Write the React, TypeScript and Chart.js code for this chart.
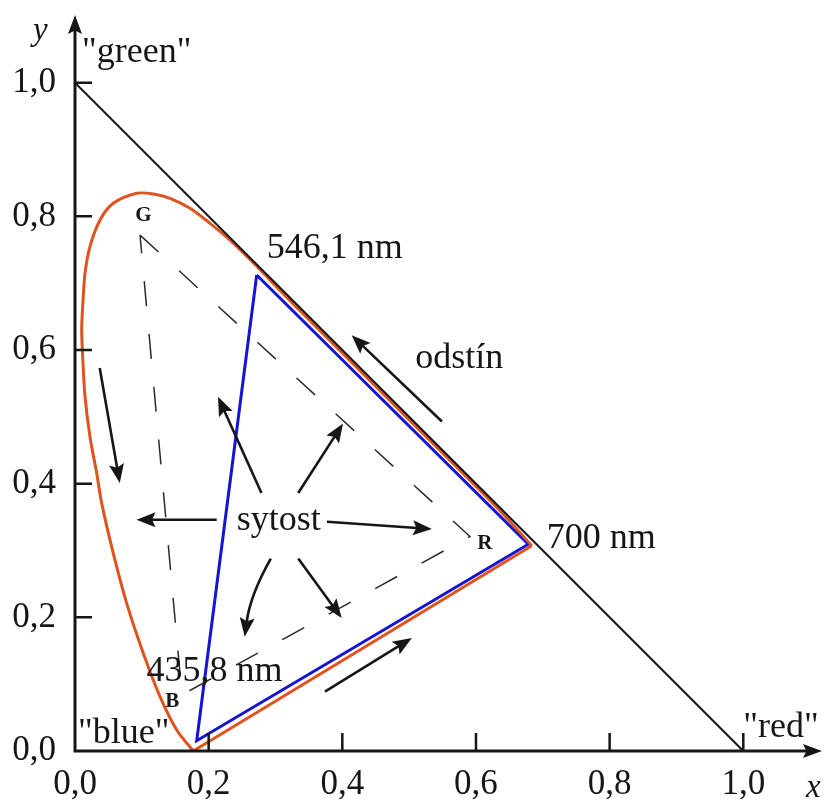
import React, { useEffect, useRef } from 'react';
import { Chart, registerables } from 'chart.js';

Chart.register(...registerables);

// Axis ticks
const tickValues = [0, 0.2, 0.4, 0.6, 0.8, 1.0];
const tickLabels = ['0,0', '0,2', '0,4', '0,6', '0,8', '1,0'];

// Spectral locus (orange), from the blue end (bottom) round to 700 nm
const locusX = [0.177, 0.1522, 0.1272, 0.1022, 0.0774, 0.0573, 0.04, 0.0325, 0.0224, 0.015, 0.0115, 0.01, 0.0115, 0.015, 0.0224, 0.0374, 0.0573, 0.0923, 0.1172, 0.1422, 0.1721, 0.202, 0.232, 0.2619, 0.3367, 0.4863, 0.6359, 0.6834];
const locusY = [0.0, 0.0314, 0.0813, 0.1462, 0.2209, 0.2958, 0.3706, 0.4155, 0.4703, 0.5301, 0.59, 0.63, 0.6648, 0.7148, 0.7546, 0.7945, 0.8195, 0.8345, 0.8335, 0.827, 0.8121, 0.7896, 0.7646, 0.7354, 0.6588, 0.5092, 0.3596, 0.3072];
// Line of purples (orange, straight)
const purpleX = [0.6834, 0.177];
const purpleY = [0.3072, 0.0];
// x + y = 1 line
const diagX = [0, 1];
const diagY = [1, 0];
// Blue triangle (546,1 nm / 700 nm / 435,8 nm)
const blueX = [0.2719, 0.6783, 0.1821, 0.2719];
const blueY = [0.7122, 0.3093, 0.0154, 0.7122];
// Dashed triangle G-R-B
const dashX = [0.0973, 0.591, 0.16, 0.0973];
const dashY = [0.772, 0.321, 0.084, 0.772];

// Text labels (left / baseline anchor, data coordinates)
const labelTexts = ['"green"', '546,1 nm', 'odstín', '700 nm', 'sytost', '435,8 nm', '"blue"', '"red"'];
const labelX = [0.0105, 0.287, 0.509, 0.706, 0.242, 0.107, 0.0045, 1.0];
const labelY = [1.031, 0.738, 0.573, 0.304, 0.331, 0.104, 0.0124, 0.0214];

// Vertex letters
const vertexTexts = ['G', 'R', 'B'];
const vertexX = [0.09, 0.602, 0.135];
const vertexY = [0.793, 0.302, 0.066];

// Axis titles
const axisTitleTexts = ['y', 'x'];
const axisTitleX = [-0.063, 1.094];
const axisTitleY = [1.064, -0.069];

// Arrows: from -> to (tip), with optional bend
const arrowFromX = [0.549, 0.374, 0.037, 0.279, 0.334, 0.212, 0.377, 0.293, 0.334];
const arrowFromY = [0.493, 0.089, 0.573, 0.386, 0.386, 0.346, 0.343, 0.288, 0.288];
const arrowToX = [0.414, 0.504, 0.067, 0.214, 0.401, 0.092, 0.534, 0.254, 0.399];
const arrowToY = [0.622, 0.169, 0.401, 0.53, 0.49, 0.346, 0.332, 0.171, 0.199];
const arrowBend = [0, 0, 0, 0, 0, 0, 0, 0.012, 0];

const toPts = (xs: number[], ys: number[]) => xs.map((v, i) => ({ x: v, y: ys[i] }));

const INK = '#161616';
const SERIF = '"Liberation Serif", "Times New Roman", serif';

function head(ctx: CanvasRenderingContext2D, tx: number, ty: number, ang: number, len: number, half: number) {
  ctx.beginPath();
  ctx.moveTo(tx, ty);
  ctx.lineTo(tx - len * Math.cos(ang) + half * Math.sin(ang), ty - len * Math.sin(ang) - half * Math.cos(ang));
  ctx.lineTo(tx - len * 0.82 * Math.cos(ang), ty - len * 0.82 * Math.sin(ang));
  ctx.lineTo(tx - len * Math.cos(ang) - half * Math.sin(ang), ty - len * Math.sin(ang) + half * Math.cos(ang));
  ctx.closePath();
  ctx.fill();
}

const overlay = {
  id: 'overlay',
  afterDatasetsDraw(chart: any) {
    const { ctx, chartArea } = chart;
    const xs = chart.scales.x;
    const ys = chart.scales.y;
    const px = (v: number) => xs.getPixelForValue(v);
    const py = (v: number) => ys.getPixelForValue(v);
    ctx.save();
    ctx.strokeStyle = INK;
    ctx.fillStyle = INK;
    ctx.lineCap = 'butt';

    // Axes with arrow heads
    const ox = px(0);
    const oy = py(0);
    ctx.lineWidth = 3;
    ctx.beginPath();
    ctx.moveTo(ox - 1.5, oy);
    ctx.lineTo(chartArea.right - 10, oy);
    ctx.moveTo(ox, oy + 1.5);
    ctx.lineTo(ox, chartArea.top + 10);
    ctx.stroke();
    head(ctx, chartArea.right, oy, 0, 19, 7);
    head(ctx, ox, chartArea.top, -Math.PI / 2, 19, 7);

    // inward tick marks
    ctx.lineWidth = 2.5;
    ctx.beginPath();
    tickValues.forEach((v) => {
      if (v === 0) return;
      ctx.moveTo(px(v), oy);
      ctx.lineTo(px(v), oy - 18);
      ctx.moveTo(ox, py(v));
      ctx.lineTo(ox + 17, py(v));
    });
    ctx.stroke();

    // Arrows
    ctx.lineWidth = 2.6;
    arrowFromX.forEach((_, i) => {
      const x1 = px(arrowFromX[i]);
      const y1 = py(arrowFromY[i]);
      const x2 = px(arrowToX[i]);
      const y2 = py(arrowToY[i]);
      const dx = x2 - x1;
      const dy = y2 - y1;
      const L = Math.hypot(dx, dy);
      const nx = -dy / L;
      const ny = dx / L;
      const bend = (arrowBend[i] * (xs.getPixelForValue(1) - xs.getPixelForValue(0)));
      const cx = (x1 + x2) / 2 + nx * bend;
      const cy = (y1 + y2) / 2 + ny * bend;
      const ang = bend ? Math.atan2(y2 - cy, x2 - cx) : Math.atan2(dy, dx);
      const bx = x2 - 15 * Math.cos(ang);
      const by = y2 - 15 * Math.sin(ang);
      ctx.beginPath();
      ctx.moveTo(x1, y1);
      if (bend) ctx.quadraticCurveTo(cx, cy, bx, by);
      else ctx.lineTo(bx, by);
      ctx.stroke();
      head(ctx, x2, y2, ang, 19, 7.5);
    });

    // Texts
    ctx.textAlign = 'left';
    ctx.textBaseline = 'alphabetic';
    ctx.font = `36px ${SERIF}`;
    labelTexts.forEach((t, i) => ctx.fillText(t, px(labelX[i]), py(labelY[i])));
    ctx.font = `italic 33px ${SERIF}`;
    axisTitleTexts.forEach((t, i) => ctx.fillText(t, px(axisTitleX[i]), py(axisTitleY[i])));
    ctx.font = `bold 21px ${SERIF}`;
    vertexTexts.forEach((t, i) => ctx.fillText(t, px(vertexX[i]), py(vertexY[i])));
    ctx.restore();
  },
};

export default function App() {
  const ref = useRef<HTMLCanvasElement | null>(null);
  useEffect(() => {
    document.body.style.margin = '0';
    const canvas = ref.current;
    if (!canvas) return;
    const fmt = (v: number) => {
      const k = tickValues.findIndex((t) => Math.abs(t - v) < 1e-6);
      return k >= 0 ? tickLabels[k] : '';
    };
    const setTicks = (scale: any) => {
      scale.ticks = tickValues.map((v) => ({ value: v }));
    };
    const chart = new Chart(canvas, {
      type: 'scatter',
      data: {
        datasets: [
          { data: toPts(diagX, diagY), showLine: true, borderColor: INK, borderWidth: 2, pointRadius: 0, clip: false },
          { data: toPts(dashX, dashY), showLine: true, borderColor: '#2a2a2a', borderWidth: 1.5, borderDash: [25, 28], pointRadius: 0, clip: false },
          { data: toPts(locusX, locusY), showLine: true, borderColor: '#e0531e', borderWidth: 3, tension: 0.3, pointRadius: 0, clip: false },
          { data: toPts(purpleX, purpleY), showLine: true, borderColor: '#e0531e', borderWidth: 3, pointRadius: 0, clip: false },
          { data: toPts(blueX, blueY), showLine: true, borderColor: '#1414d2', borderWidth: 3, borderJoinStyle: 'miter', pointRadius: 0, clip: false },
        ],
      },
      options: {
        animation: false,
        responsive: false,
        events: [],
        layout: { padding: { top: 15, right: 3, left: 0, bottom: 0 } },
        plugins: { legend: { display: false }, tooltip: { enabled: false }, title: { display: false } },
        scales: {
          x: {
            type: 'linear',
            min: 0,
            max: (822 - 75) / 668.3,
            border: { display: false },
            grid: { display: false, drawTicks: false },
            afterBuildTicks: setTicks,
            afterFit: (s: any) => { s.height = 54; s.paddingLeft = 0; s.paddingRight = 0; },
            ticks: { color: INK, padding: 13, maxRotation: 0, font: { family: SERIF, size: 35 }, callback: (v: any) => fmt(Number(v)) },
          },
          y: {
            type: 'linear',
            min: 0,
            max: (751 - 15) / 668.3,
            border: { display: false },
            grid: { display: false, drawTicks: false },
            afterBuildTicks: setTicks,
            afterFit: (s: any) => { s.width = 75; s.paddingTop = 0; s.paddingBottom = 0; },
            ticks: { color: INK, padding: 19, font: { family: SERIF, size: 35 }, callback: (v: any) => fmt(Number(v)) },
          },
        },
      },
      plugins: [overlay],
    } as any);
    return () => chart.destroy();
  }, []);
  return (
    <div style={{ position: 'absolute', left: 0, top: 0, width: 825, height: 805 }}>
      <canvas ref={ref} width={825} height={805} style={{ display: 'block' }} />
    </div>
  );
}
